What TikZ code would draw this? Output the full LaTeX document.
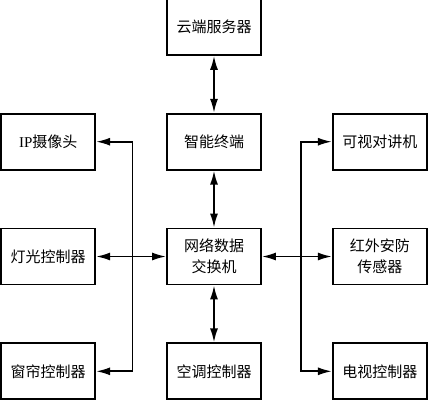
\documentclass[tikz,border=0pt]{standalone}
\usepackage{fontspec}
\setmainfont{Liberation Serif}
\newfontfamily\cjk{Noto Sans CJK SC}
\usetikzlibrary{positioning,arrows.meta,calc}
\tikzstyle{block}=[
draw=black,
line width=1.8pt,
shape=rectangle,
minimum width=94pt,
minimum height=56pt,
inner sep=0pt,
align=center,
font=\cjk\fontsize{15}{21}\selectfont
]
\tikzstyle{link} = [draw,line width=1.8pt,-{Latex[length=14pt,width=8pt]}]
\tikzstyle{dlink} = [draw,line width=1.8pt,{Latex[length=14pt,width=8pt]}-{Latex[length=14pt,width=8pt]}]

\begin{document}
\begin{tikzpicture}[node distance=57pt and 70pt]
			\useasboundingbox (0,0) rectangle (428pt,-400pt);
			
			\node[block]	(hub) at (214pt,-256.5pt)	{网络数据\\交换机};
			\node[block]	(term)	[above=of hub]	{智能终端};
			\node[block]	(cloud)	[above=of term]	{云端服务器};
			\node[block]	(aircon)	[below=of hub]	{空调控制器};
			\node[block]	(lamp)	[left=of hub]	{灯光控制器};
			\node[block]	(cam)	[above=of lamp]	{{\rmfamily IP}摄像头};
			\node[block]	(curtain)	[below=of lamp]	{窗帘控制器};
			\node[block]	(alarm)	[right=of hub]	{红外安防\\传感器};
			\node[block]	(intercom)	[above=of alarm]	{可视对讲机};
			\node[block]	(tv)	[below=of alarm]	{电视控制器};
			
			\coordinate (lbus) at ($(lamp.east)!0.52!(hub.west)$);
			\coordinate (rbus) at ($(hub.east)!0.56!(alarm.west)$);
			
			\path[dlink]
			(cloud) edge node {} (term)
			(term) edge node {} (hub)
			(hub) edge node {} (aircon)
			(lamp) edge node {} (hub)
			(hub) edge node {} (alarm);
			
			\draw[link] (lbus) |- (cam);
			\draw[link] (lbus) |- (curtain);
			\draw[link] (rbus) |- (intercom);
			\draw[link] (rbus) |- (tv);
			
			\end{tikzpicture}
\end{document}
